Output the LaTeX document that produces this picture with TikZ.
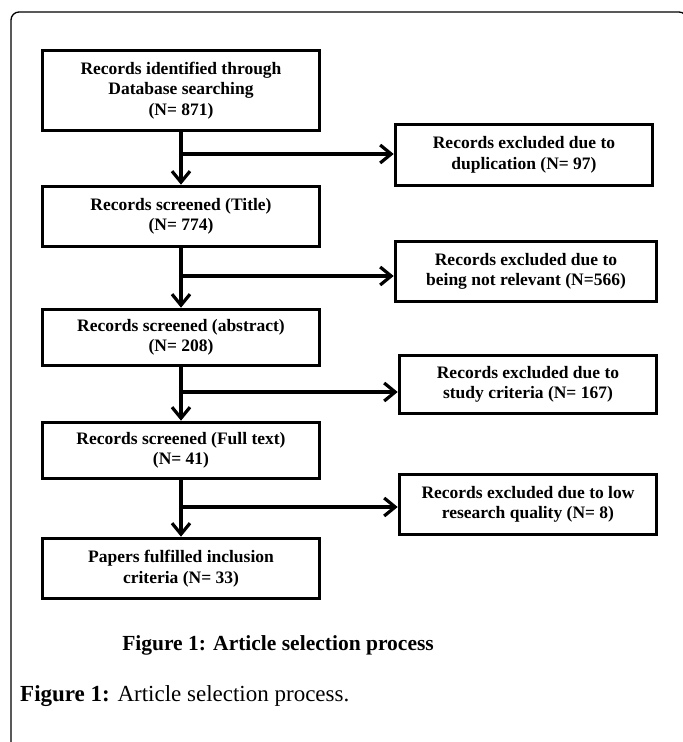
\documentclass[tikz,border=0pt]{standalone}
\usepackage{fontspec}
\setmainfont{Liberation Serif}
\usetikzlibrary{arrows.meta}
\begin{document}
\begin{tikzpicture}[x=1pt, y=-1pt,
    stage/.style={draw, line width=3.6pt, minimum width=277pt, align=center,
      inner sep=2pt, font=\fontsize{17.5}{20.5}\selectfont\bfseries},
    drop/.style={stage, minimum width=257pt},
    flow/.style={line width=3.2pt, line cap=round,
      -{Straight Barb[length=11pt, width=18pt]}}]
  \useasboundingbox (0,0) rectangle (683,742);
  \draw[line width=1.3pt, rounded corners=8pt] (11,742) -- (11,12) -- (687,12) -- (687,40);
  \node[stage, minimum height=80pt] (found) at (181,90.5)
    {Records identified through\\ Database searching\\ (N= 871)};
  \node[stage, minimum height=60pt] (title) at (181,216.5)
    {Records screened (Title)\\ (N= 774)};
  \node[stage, minimum height=56pt] (abstr) at (181,337.5)
    {Records screened (abstract)\\ (N= 208)};
  \node[stage, minimum height=56pt] (full) at (181,450.5)
    {Records screened (Full text)\\ (N= 41)};
  \node[stage, minimum height=60pt] (kept) at (181,568.5)
    {Papers fulfilled inclusion\\ criteria (N= 33)};
  \node[drop, minimum height=61pt] (dup) at (524,155)
    {Records excluded due to\\ duplication (N= 97)};
  \node[drop, minimum height=60pt, minimum width=261pt] (irrel) at (526,271.5)
    {Records excluded due to\\ being not relevant (N=566)};
  \node[drop, minimum height=58pt] (crit) at (528,384.5)
    {Records excluded due to\\ study criteria (N= 167)};
  \node[drop, minimum height=60pt] (qual) at (528,504.5)
    {Records excluded due to low\\ research quality (N= 8)};
  \coordinate (j1) at (181,154);
  \coordinate (j2) at (181,276);
  \coordinate (j3) at (181,392);
  \coordinate (j4) at (181,507);
  \draw[flow] (found) -- (title);
  \draw[flow] (title) -- (abstr);
  \draw[flow] (abstr) -- (full);
  \draw[flow] (full) -- (kept);
  \draw[flow] (j1) -- (j1 -| dup.west);
  \draw[flow] (j2) -- (j2 -| irrel.west);
  \draw[flow] (j3) -- (j3 -| crit.west);
  \draw[flow] (j4) -- (j4 -| qual.west);
  \node[font=\fontsize{21.5}{24}\selectfont\bfseries] (cap) at (278,645)
    {Figure 1: Article selection process};
  \node[anchor=west, inner sep=0pt, font=\fontsize{23}{26}\selectfont] (note) at (20,696)
    {\textbf{Figure 1:} Article selection process.};
\end{tikzpicture}
\end{document}
